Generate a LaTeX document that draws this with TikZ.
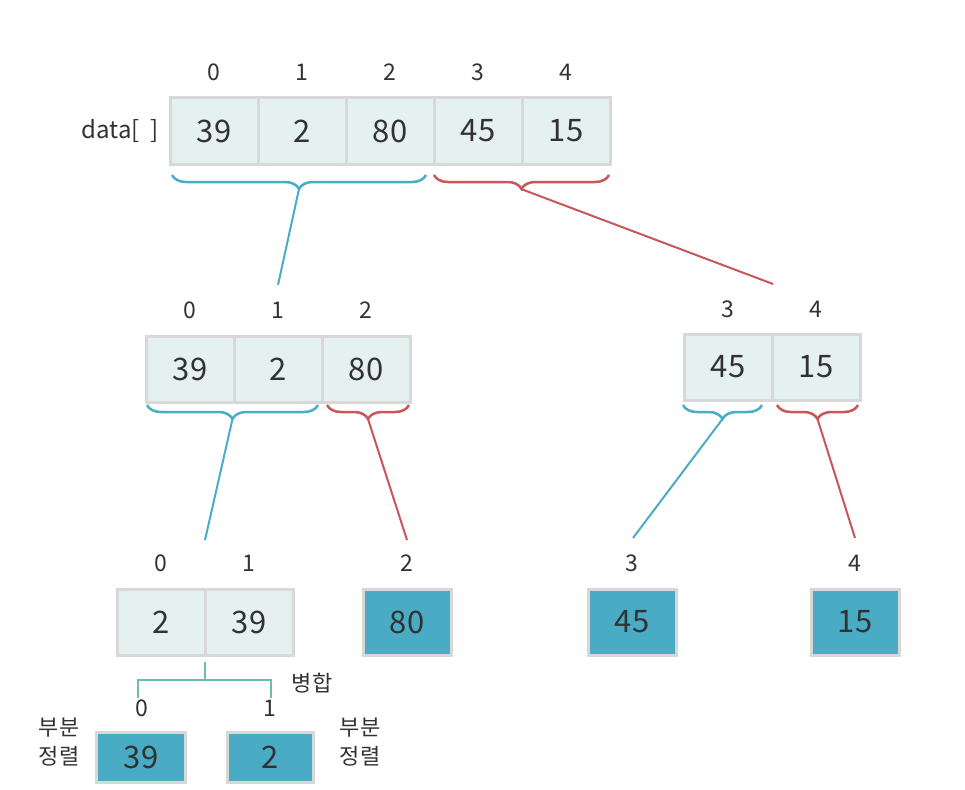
\documentclass[tikz,border=0pt]{standalone}
\usepackage{fontspec}
\setmainfont{Noto Sans CJK KR}
\usetikzlibrary{positioning,decorations.pathreplacing}
\definecolor{cellfill}{RGB}{228,241,238}
\definecolor{cellline}{RGB}{216,216,216}
\definecolor{leaffill}{RGB}{74,171,196}
\definecolor{lblue}{RGB}{74,172,198}
\definecolor{lred}{RGB}{200,86,90}
\definecolor{lgreen}{RGB}{108,190,170}
\definecolor{txt}{RGB}{50,50,50}
\tikzset{
  cell/.style={rectangle,draw=cellline,line width=3pt,fill=cellfill,minimum width=88pt,
    minimum height=66pt,inner sep=0pt,outer sep=0pt,text=txt,font=\fontsize{31}{34}\selectfont},
  leaf/.style={cell,fill=leaffill},
  idx/.style={text=txt,inner sep=1pt,font=\fontsize{23}{26}\selectfont},
  word/.style={text=txt,inner sep=1pt,align=center,font=\fontsize{22}{29}\selectfont},
  bluebrace/.style={draw=lblue,line width=2.5pt,decorate,decoration={brace,mirror,amplitude=14pt}},
  redbrace/.style={draw=lred,line width=2.5pt,decorate,decoration={brace,mirror,amplitude=14pt}},
  blueline/.style={draw=lblue,line width=2pt},
  redline/.style={draw=lred,line width=2pt},
  merge/.style={draw=lgreen,line width=2.5pt}
}
\begin{document}
\begin{tikzpicture}[x=1pt,y=-1pt]
\useasboundingbox (0,0) rectangle (965,789);
  % whole array
  \node[word,font=\fontsize{24}{28}\selectfont] (data) at (120,131) {data[\ \ ]};
  \foreach \v [count=\i from 0] in {39,2,80,45,15} {
    \node[cell] (t\i) at (214+88*\i,131) {\v};
    \node[idx] (ti\i) at (214+88*\i,72) {\i};
  }
  \draw[bluebrace] (172,175) -- (426,175);
  \draw[redbrace] (434,175) -- (609,175);
  \coordinate (tb) at (299,189);
  \coordinate (tr) at (521,189);

  % left half
  \foreach \v [count=\i from 0] in {39,2,80} {
    \node[cell] (l\i) at (190+88*\i,369) {\v};
    \node[idx] (li\i) at (190+88*\i,310) {\i};
  }
  % right half
  \node[cell] (r3) at (728,367) {45};
  \node[cell] (r4) at (816,367) {15};
  \node[idx] (ri3) at (728,309) {3};
  \node[idx] (ri4) at (816,309) {4};

  \coordinate (lt) at (278,285);
  \coordinate (rt) at (773,284);
  \draw[blueline] (tb) -- (lt);
  \draw[redline] (tr) -- (rt);

  \draw[bluebrace] (147,405) -- (318,405);
  \draw[redbrace] (327,405) -- (409,405);
  \draw[bluebrace] (683,405) -- (762,405);
  \draw[redbrace] (777,405) -- (858,405);
  \coordinate (lb) at (232.5,419);
  \coordinate (lr) at (368,419);
  \coordinate (rb) at (722.5,419);
  \coordinate (rr) at (817.5,419);

  % bottom row
  \node[cell] (s0) at (161,622) {2};
  \node[cell] (s1) at (249,622) {39};
  \node[idx] (si0) at (161,563) {0};
  \node[idx] (si1) at (249,563) {1};
  \node[leaf] (p2) at (407,622) {80};
  \node[leaf] (p3) at (632,622) {45};
  \node[leaf] (p4) at (855,622) {15};
  \node[idx] (pi2) at (407,563) {2};
  \node[idx] (pi3) at (632,563) {3};
  \node[idx] (pi4) at (855,563) {4};

  \coordinate (se) at (205,540);
  \coordinate (pe2) at (407,540);
  \coordinate (pe3) at (633,538);
  \coordinate (pe4) at (855,538);
  \draw[blueline] (lb) -- (se);
  \draw[redline] (lr) -- (pe2);
  \draw[blueline] (rb) -- (pe3);
  \draw[redline] (rr) -- (pe4);

  % merge
  \coordinate (m0) at (205,662);
  \coordinate (mL) at (138,698);
  \coordinate (mR) at (271,698);
  \draw[merge] (m0) -- ++(0,18) -| (mL);
  \draw[merge] (m0) -- ++(0,18) -| (mR);
  \node[word] (mg) at (312,683) {병합};
  \node[idx] (qi0) at (142,708) {0};
  \node[idx] (qi1) at (270,708) {1};
  \node[leaf,minimum width=89pt,minimum height=50pt] (q0) at (141,757) {39};
  \node[leaf,minimum width=86pt,minimum height=50pt] (q1) at (270,757) {2};
  \node[word] (w0) at (59,742) {부분\\정렬};
  \node[word] (w1) at (360,742) {부분\\정렬};
\end{tikzpicture}
\end{document}
